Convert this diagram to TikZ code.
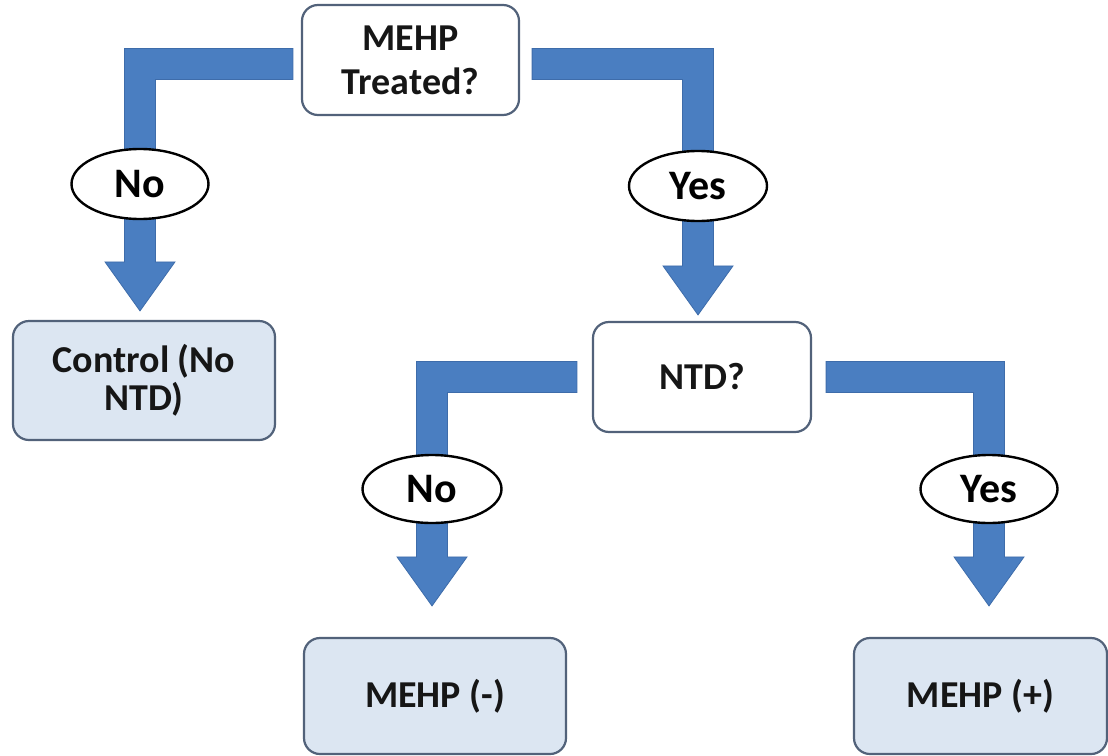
\documentclass[tikz,border=0pt]{standalone}
\usepackage{fontspec}
\setmainfont{Carlito}
\usetikzlibrary{calc,shapes.geometric}

\definecolor{arrowblue}{RGB}{74,126,193}
\definecolor{arrowedge}{RGB}{62,108,170}
\definecolor{boxedge}{RGB}{82,98,122}
\definecolor{boxfill}{RGB}{220,230,242}
\definecolor{inktext}{RGB}{22,22,22}

\tikzset{
  label text/.style={font=\fontsize{38}{42}\selectfont\bfseries, text=inktext},
  question/.style={label text, draw=boxedge, line width=2.2pt, rounded corners=16pt,
                   fill=white, align=center, inner sep=0pt},
  outcome/.style={question, fill=boxfill},
  answer/.style={font=\fontsize{42}{46}\selectfont\bfseries, ellipse, draw=black,
                 line width=2.4pt, fill=white, inner sep=0pt, text=black},
  blockarrow/.style={fill=arrowblue, draw=arrowedge, line width=0.8pt, line join=miter},
}

% Bent block arrow: #1 start of the bar, #2 elbow, #3 tip, #4 side (-1 left, 1 right)
\newcommand{\bentarrow}[4]{%
  \path[blockarrow]
    ($(#1)+(0,-15.5)$) -- ($(#2)+({(#4)*15.5},-15.5)$)
    -- ($(#3)+({(#4)*15.5},-49)$) -- ($(#3)+({(#4)*35},-49)$)
    -- (#3)
    -- ($(#3)+({0-(#4)*35},-49)$) -- ($(#3)+({0-(#4)*15.5},-49)$)
    -- ($(#2)+({0-(#4)*15.5},15.5)$) -- ($(#1)+(0,15.5)$) -- cycle;
}

\begin{document}
\begin{tikzpicture}[x=1pt, y=-1pt]
  \useasboundingbox (0,0) rectangle (1108,755);

  % decision boxes
  \node[question, minimum width=217pt, minimum height=110pt,
        font=\fontsize{38}{44}\selectfont\bfseries] (q1) at (410.5,60) {MEHP\\Treated?};
  \node[question, minimum width=218pt, minimum height=110pt] (q2) at (702,377) {NTD?};

  % outcome boxes
  \node[outcome, minimum width=262pt, minimum height=119pt,
        font=\fontsize{38}{38}\selectfont\bfseries] (ctrl) at (144,380.5) {Control (No\\NTD)};
  \node[outcome, minimum width=262pt, minimum height=116pt] (neg) at (435,696) {MEHP (-)};
  \node[outcome, minimum width=253pt, minimum height=116pt] (pos) at (980.5,696) {MEHP (+)};

  % arrow end points
  \coordinate (s1) at ($(q1.west)+(-8,4)$);
  \coordinate (t1) at ($(ctrl.north)+(-4,-9)$);
  \coordinate (e1) at (t1 |- s1);
  \coordinate (s2) at ($(q1.east)+(12,4)$);
  \coordinate (t2) at ($(q2.north)+(-4,-6)$);
  \coordinate (e2) at (t2 |- s2);
  \coordinate (s3) at ($(q2.west)+(-15,0)$);
  \coordinate (t3) at ($(neg.north)+(-3,-31)$);
  \coordinate (e3) at (t3 |- s3);
  \coordinate (s4) at ($(q2.east)+(14,0)$);
  \coordinate (t4) at ($(pos.north)+(8.5,-31)$);
  \coordinate (e4) at (t4 |- s4);

  \bentarrow{s1}{e1}{t1}{-1}
  \bentarrow{s2}{e2}{t2}{1}
  \bentarrow{s3}{e3}{t3}{-1}
  \bentarrow{s4}{e4}{t4}{1}

  % answer labels on the stems
  \node[answer, minimum width=137pt, minimum height=70pt] (no1) at (e1 |- 0,184) {No};
  \node[answer, minimum width=138pt, minimum height=70pt] (yes1) at (e2 |- 0,186) {Yes};
  \node[answer, minimum width=139pt, minimum height=68pt] (no2) at (e3 |- 0,489) {No};
  \node[answer, minimum width=137pt, minimum height=68pt] (yes2) at (e4 |- 0,489) {Yes};
\end{tikzpicture}
\end{document}
